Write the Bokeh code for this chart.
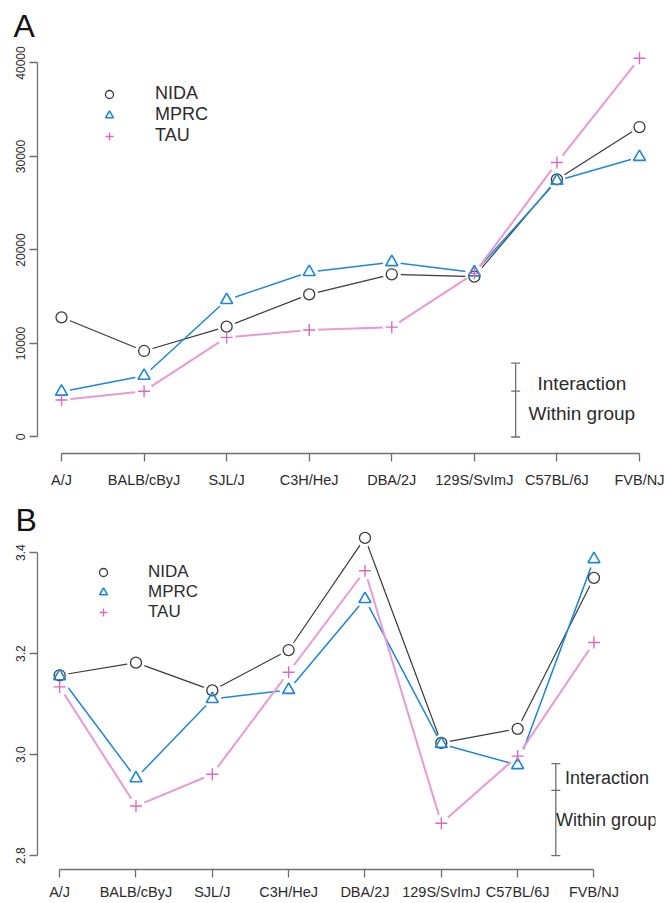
from bokeh.plotting import figure
from bokeh.models import (Range1d, FixedTicker, Label, Legend, LegendItem,
                          Title, PrintfTickFormatter)
from bokeh.layouts import column
from bokeh.embed import file_html
from bokeh.resources import INLINE

# ---------------- data ----------------
strains = ["A/J", "BALB/cByJ", "SJL/J", "C3H/HeJ", "DBA/2J",
           "129S/SvImJ", "C57BL/6J", "FVB/NJ"]
x_pos = list(range(len(strains)))

# Panel A
nida_a = [12800, 9200, 11800, 15250, 17400, 17150, 27550, 33150]
mprc_a = [4850, 6550, 14650, 17650, 18700, 17600, 27400, 29950]
tau_a = [3950, 4900, 10650, 11450, 11750, 17500, 29350, 40500]
ticks_a = [0, 10000, 20000, 30000, 40000]
bar_a_x = 5.5
bar_a = [0, 4900, 7900]          # bottom, split, top

# Panel B
nida_b = [3.157, 3.182, 3.127, 3.207, 3.429, 3.023, 3.051, 3.350]
mprc_b = [3.155, 2.953, 3.110, 3.128, 3.308, 3.021, 2.979, 3.387]
tau_b = [3.134, 2.898, 2.961, 3.163, 3.364, 2.864, 2.997, 3.222]
ticks_b = [2.8, 3.0, 3.2, 3.4]
bar_b_x = 6.5
bar_b = [2.800, 2.929, 2.982]

series_names = ["NIDA", "MPRC", "TAU"]

# ---------------- style ----------------
C_N = "#3a3a3a"
C_M = "#1f86d6"
C_T = "#e79ad3"
C_T_MK = "#d96bbd"
AXIS = "#6f6f6f"
TXT = "#2b2b2b"
FONT = "Liberation Sans"


def style_axes(p, yticks, ybounds, xstandoff):
    p.xaxis.ticker = FixedTicker(ticks=x_pos)
    p.xaxis.major_label_overrides = {i: s for i, s in enumerate(strains)}
    p.xaxis.bounds = (x_pos[0], x_pos[-1])
    p.yaxis.ticker = FixedTicker(ticks=yticks)
    p.yaxis.bounds = ybounds
    p.yaxis.major_label_orientation = "vertical"
    for ax in (p.xaxis, p.yaxis):
        ax.axis_line_color = AXIS
        ax.axis_line_width = 1.3
        ax.major_tick_line_color = AXIS
        ax.major_tick_line_width = 1.3
        ax.major_tick_out = 8
        ax.major_tick_in = 0
        ax.minor_tick_line_color = None
        ax.major_label_text_color = TXT
    p.xaxis.major_label_text_font = FONT
    p.xaxis.major_label_text_font_size = "14.5px"
    p.xaxis.major_label_standoff = xstandoff
    p.yaxis.major_label_text_font = FONT
    p.yaxis.major_label_text_font_size = "12px"
    p.yaxis.major_label_standoff = 4
    p.grid.visible = False
    p.outline_line_color = None
    p.background_fill_color = "white"
    p.border_fill_color = "white"


def draw_panel(p, nida, mprc, tau):
    specs = [
        (nida, C_N, 1.2, "circle", C_N, 11, 1.3),
        (mprc, C_M, 1.5, "triangle", C_M, 12, 1.6),
        (tau, C_T, 2.0, "cross", C_T_MK, 12, 1.4),
    ]
    for ys, lc, lw, _, _, _, _ in specs:
        p.line(x_pos, ys, line_color=lc, line_width=lw)
        p.scatter(x_pos, ys, marker="circle", size=18,
                  fill_color="white", line_color=None)
    renderers = []
    for ys, _, _, mk, mc, ms, mlw in specs:
        r = p.scatter(x_pos, ys, marker=mk, size=ms, fill_color=None,
                      line_color=mc, line_width=mlw)
        renderers.append(r)
    return renderers


def draw_bar(p, bx, vals):
    xs = [bx] * len(vals)
    p.segment(x0=[bx], y0=[min(vals)], x1=[bx], y1=[max(vals)],
              line_color=AXIS, line_width=1.3)
    p.scatter(xs, vals, marker="dash", size=9, line_color=AXIS,
              line_width=1.3)


def add_legend(p, renderers, loc, font_size, standoff):
    items = [LegendItem(label=n, renderers=[r])
             for n, r in zip(series_names, renderers)]
    lg = Legend(items=items, location=loc, border_line_color=None,
                background_fill_alpha=0, padding=0, margin=0, spacing=0,
                glyph_width=20, glyph_height=20, label_height=20,
                label_standoff=standoff, label_text_font=FONT,
                label_text_font_size=font_size, label_text_color=TXT)
    p.add_layout(lg)


def add_text(p, x, y, text, size):
    p.add_layout(Label(x=x, y=y, text=text, text_font=FONT,
                       text_font_size=size, text_color=TXT,
                       text_align="left", text_baseline="middle"))


def add_panel_letter(p, letter, offset, standoff):
    p.add_layout(Title(text=letter, align="left", offset=offset,
                       standoff=standoff, text_font=FONT,
                       text_font_size="32px", text_font_style="normal",
                       text_color="#111111", vertical_align="bottom"),
                 "above")


# ---------------- panel A ----------------
p1 = figure(width=665, height=500, output_backend="svg",
            toolbar_location=None,
            x_range=Range1d(-0.2907, 7.194),
            y_range=Range1d(-1765, 41870),
            min_border_left=37, min_border_right=10,
            min_border_top=45, min_border_bottom=47)
style_axes(p1, ticks_a, (ticks_a[0], ticks_a[-1]), 10)
rA = draw_panel(p1, nida_a, mprc_a, tau_a)
draw_bar(p1, bar_a_x, bar_a)
add_legend(p1, rA, (62, 307), "18px", 36)
add_text(p1, 5.765, 5720, "Interaction", "19px")
add_text(p1, 5.656, 2510, "Within group", "19px")
add_panel_letter(p1, "A", -24, 3)

# ---------------- panel B ----------------
p2 = figure(width=665, height=402, output_backend="svg",
            toolbar_location=None,
            x_range=Range1d(-0.29, 7.806),
            y_range=Range1d(2.7724, 3.4437),
            min_border_left=35, min_border_right=2,
            min_border_top=30, min_border_bottom=31)
style_axes(p2, ticks_b, (ticks_b[0], ticks_b[-1]), 6)
p2.yaxis.formatter = PrintfTickFormatter(format="%.1f")
rB = draw_panel(p2, nida_b, mprc_b, tau_b)
draw_bar(p2, bar_b_x, bar_b)
add_legend(p2, rB, (56, 247), "17px", 35)
add_text(p2, 6.62, 2.954, "Interaction", "18px")
add_text(p2, 6.504, 2.871, "Within group", "18px")
add_panel_letter(p2, "B", -22, -14)

layout = column(p1, p2)
open("out.html", "w").write(file_html(layout, INLINE))
